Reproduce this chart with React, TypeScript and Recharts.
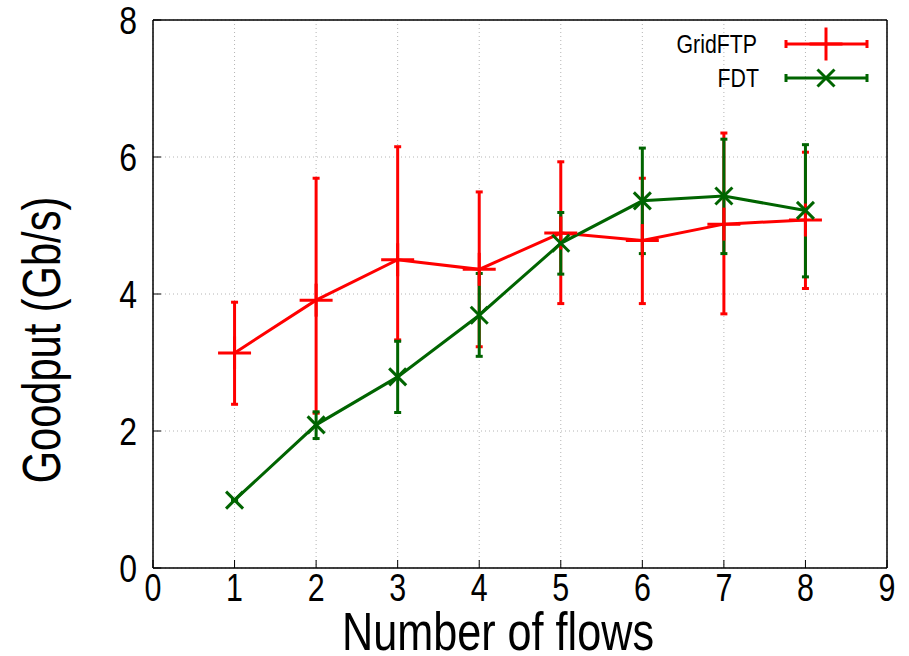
import { LineChart, Line, XAxis, YAxis, CartesianGrid, ErrorBar, Legend } from 'recharts'

const flows = [1, 2, 3, 4, 5, 6, 7, 8]

// GridFTP goodput (Gb/s): mean, min, max
const gridftpMean = [3.14, 3.91, 4.5, 4.36, 4.89, 4.78, 5.02, 5.08]
const gridftpLow = [2.39, 2.26, 3.33, 3.23, 3.86, 3.86, 3.71, 4.08]
const gridftpHigh = [3.88, 5.69, 6.15, 5.49, 5.93, 5.69, 6.35, 6.07]

// FDT goodput (Gb/s): mean, min, max
const fdtMean = [0.99, 2.09, 2.79, 3.69, 4.74, 5.36, 5.43, 5.22]
const fdtLow = [0.98, 1.89, 2.27, 3.09, 4.29, 4.59, 4.59, 4.25]
const fdtHigh = [1.0, 2.28, 3.31, 4.3, 5.19, 6.13, 6.26, 6.18]

const xTicks = [0, 1, 2, 3, 4, 5, 6, 7, 8, 9]
const yTicks = [0, 2, 4, 6, 8]

const RED = '#ff0000'
const GREEN = '#006400'
const FONT = '"Liberation Sans", Arial, sans-serif'

const data = flows.map((f, i) => ({
  flows: f,
  gridftp: gridftpMean[i],
  gridftpErr: [gridftpMean[i] - gridftpLow[i], gridftpHigh[i] - gridftpMean[i]],
  fdt: fdtMean[i],
  fdtErr: [fdtMean[i] - fdtLow[i], fdtHigh[i] - fdtMean[i]],
}))

// condensed text: the original uses a narrow sans face
function NarrowText({ x, y, size, sx = 0.8, anchor = 'middle', dy, rotate, children }: any) {
  const t = `translate(${x} ${y})${rotate ? ` rotate(${rotate})` : ''} scale(${sx} 1)`
  return (
    <text transform={t} textAnchor={anchor} dy={dy} fontFamily={FONT} fontSize={size} fill='#000'>
      {children}
    </text>
  )
}

function XTick({ x, y, payload }: any) {
  return <NarrowText x={x} y={y} size={38} sx={0.8} dy='0.71em'>{payload.value}</NarrowText>
}

function YTick({ x, y, payload }: any) {
  return <NarrowText x={x} y={y} size={39} sx={0.82} anchor='end' dy='0.355em'>{payload.value}</NarrowText>
}

function PlusMark({ cx, cy }: { cx: number; cy: number }) {
  const r = 16.5
  return (
    <g>
      <line x1={cx - r} y1={cy} x2={cx + r} y2={cy} stroke={RED} strokeWidth={3} />
      <line x1={cx} y1={cy - r} x2={cx} y2={cy + r} stroke={RED} strokeWidth={3} />
    </g>
  )
}

function CrossMark({ cx, cy }: { cx: number; cy: number }) {
  const r = 8.5
  return (
    <g>
      <line x1={cx - r} y1={cy - r} x2={cx + r} y2={cy + r} stroke={GREEN} strokeWidth={3} />
      <line x1={cx - r} y1={cy + r} x2={cx + r} y2={cy - r} stroke={GREEN} strokeWidth={3} />
    </g>
  )
}

const renderLegend = () => (
  <svg width={240} height={80} style={{ display: 'block', overflow: 'visible' }}>
    <NarrowText x={97} y={33} size={26} sx={0.82} anchor='end'>GridFTP</NarrowText>
    <line x1={126} y1={24} x2={207} y2={24} stroke={RED} strokeWidth={3} />
    <line x1={126} y1={20} x2={126} y2={28} stroke={RED} strokeWidth={3} />
    <line x1={207} y1={20} x2={207} y2={28} stroke={RED} strokeWidth={3} />
    <PlusMark cx={166} cy={24} />
    <NarrowText x={99} y={67} size={26} sx={0.82} anchor='end'>FDT</NarrowText>
    <line x1={126} y1={58} x2={207} y2={58} stroke={GREEN} strokeWidth={3} />
    <line x1={126} y1={54} x2={126} y2={62} stroke={GREEN} strokeWidth={3} />
    <line x1={207} y1={54} x2={207} y2={62} stroke={GREEN} strokeWidth={3} />
    <CrossMark cx={166} cy={58} />
  </svg>
)

export default function App() {
  return (
    <div style={{ width: 909, height: 656, background: '#fff' }}>
      <style>{'body{margin:0}'}</style>
      <LineChart width={909} height={656} data={data} margin={{ top: 19, right: 21, left: 0, bottom: 0 }}>
        <CartesianGrid stroke='#b4b4b4' strokeDasharray='1 3' />
        <XAxis
          dataKey='flows'
          type='number'
          domain={[0, 9]}
          ticks={xTicks}
          height={88}
          tickSize={-8}
          tickMargin={14}
          tick={<XTick />}
          axisLine={{ stroke: '#000', strokeWidth: 1.5 }}
          tickLine={{ stroke: '#000', strokeWidth: 1 }}
          label={{
            content: () => <NarrowText x={498} y={650} size={54} sx={0.8}>Number of flows</NarrowText>,
          }}
        />
        <XAxis
          xAxisId='top'
          orientation='top'
          dataKey='flows'
          type='number'
          domain={[0, 9]}
          ticks={xTicks}
          height={1}
          tickSize={-8}
          tick={false}
          axisLine={{ stroke: '#000', strokeWidth: 1.5 }}
          tickLine={{ stroke: '#000', strokeWidth: 1 }}
        />
        <YAxis
          type='number'
          domain={[0, 8]}
          ticks={yTicks}
          width={153}
          tickSize={-8}
          tickMargin={24}
          tick={<YTick />}
          axisLine={{ stroke: '#000', strokeWidth: 1.5 }}
          tickLine={{ stroke: '#000', strokeWidth: 1 }}
          label={{
            content: () => (
              <NarrowText x={60} y={340} size={54} sx={0.77} rotate={-90}>Goodput (Gb/s)</NarrowText>
            ),
          }}
        />
        <YAxis
          yAxisId='right'
          orientation='right'
          type='number'
          domain={[0, 8]}
          ticks={yTicks}
          width={1}
          tickSize={-8}
          tick={false}
          axisLine={{ stroke: '#000', strokeWidth: 1.5 }}
          tickLine={{ stroke: '#000', strokeWidth: 1 }}
        />
        <Legend
          layout='horizontal'
          verticalAlign='middle'
          align='center'
          content={renderLegend}
          wrapperStyle={{ left: 660, top: 20, width: 240, height: 80 }}
        />
        <Line
          dataKey='gridftp'
          stroke={RED}
          strokeWidth={3}
          isAnimationActive={false}
          legendType='none'
          dot={(p: any) => <PlusMark key={`g${p.index}`} cx={p.cx} cy={p.cy} />}
          activeDot={false}
        >
          <ErrorBar dataKey='gridftpErr' direction='y' width={3.5} stroke={RED} strokeWidth={3} isAnimationActive={false} />
        </Line>
        <Line
          dataKey='fdt'
          stroke={GREEN}
          strokeWidth={3}
          isAnimationActive={false}
          legendType='none'
          dot={(p: any) => <CrossMark key={`f${p.index}`} cx={p.cx} cy={p.cy} />}
          activeDot={false}
        >
          <ErrorBar dataKey='fdtErr' direction='y' width={3.5} stroke={GREEN} strokeWidth={3} isAnimationActive={false} />
        </Line>
      </LineChart>
    </div>
  )
}
